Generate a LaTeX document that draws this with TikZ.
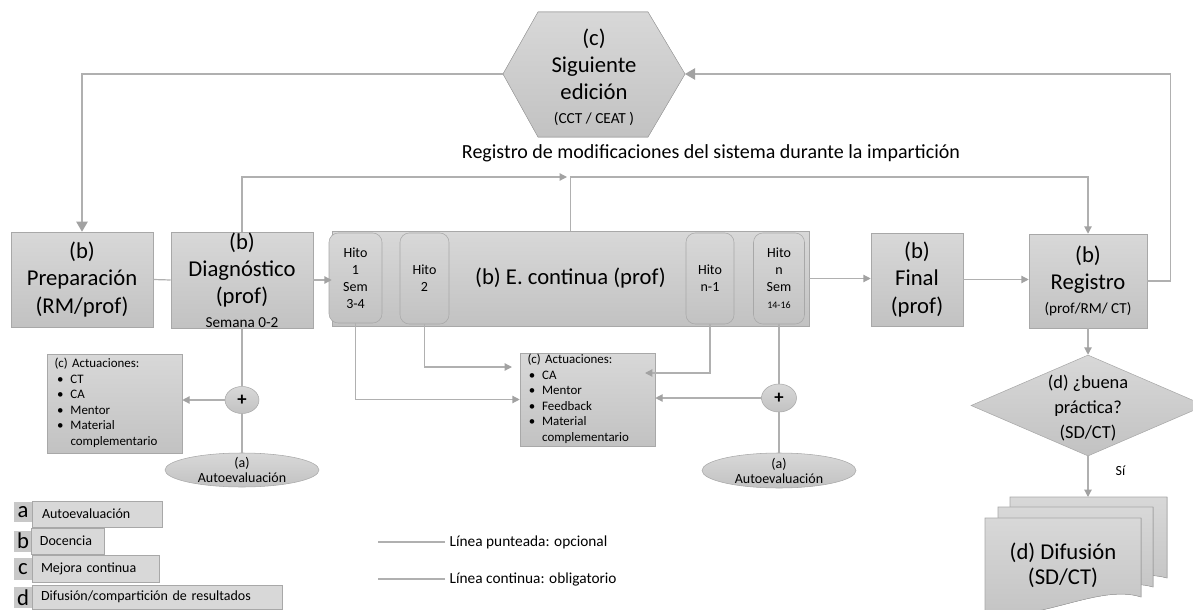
\documentclass[tikz,border=0pt]{standalone}
\usepackage{fontspec}
\setmainfont{Carlito}
\usetikzlibrary{arrows.meta,shapes.geometric}

\definecolor{boxtop}{HTML}{D8D8D8}
\definecolor{boxbot}{HTML}{C2C2C2}
\definecolor{boxedge}{HTML}{A8A8A8}
\definecolor{linkgray}{HTML}{B0B0B0}
\definecolor{tipgray}{HTML}{A2A2A2}

\newcommand{\pix}{0.75pt}
\newcommand{\fbig}{\fontsize{17}{20.4}\selectfont}
\newcommand{\fhex}{\fontsize{17}{20.4}\selectfont}
\newcommand{\fdia}{\fontsize{13.8}{18.6}\selectfont}
\newcommand{\fsmall}{\fontsize{11.4}{14}\selectfont}
\newcommand{\fhito}{\fontsize{10.5}{12.8}\selectfont}
\newcommand{\fact}{\fontsize{9.7}{11.6}\selectfont}
\newcommand{\fleg}{\fontsize{10.5}{12.6}\selectfont}

\tikzset{
    box/.style={draw=boxedge, top color=boxtop, bottom color=boxbot, align=center, inner sep=0pt},
    hito/.style={box, rounded corners=7pt, font=\fhito},
    oval/.style={ellipse, box},
    link/.style={draw=linkgray, line width=0.9pt},
    arr/.style={link, -{Triangle[length=5.5pt, width=5.5pt, color=tipgray]}},
    bigarr/.style={link, -{Triangle[length=7.5pt, width=8.5pt, color=tipgray]}},
    legbox/.style={draw=boxedge, fill=boxtop, inner sep=0pt, align=left, font=\fleg},
    lettr/.style={fill=boxbot!90, inner sep=0pt, font=\fontsize{17}{17}\selectfont},
}

\begin{document}
\begin{tikzpicture}[x=\pix, y=-\pix]
    \useasboundingbox (0,0) rectangle (1193,610);

    \coordinate (hexL) at (503,74);
    \coordinate (hexR) at (685,74);
    \coordinate (mod) at (567,177);
    \coordinate (in2) at (512,367);
    \coordinate (in3) at (645,373);
    \coordinate (dift) at (1088,497);

    \filldraw[draw=boxedge, top color=boxtop, bottom color=boxbot] (hexL) -- (538,12) -- (648,12) -- (hexR) -- (648,137) -- (538,137) -- cycle;
    \node[align=center, font=\fhex] (sig) at (594,77) {(c)\\Siguiente\\edición\\[-3pt]{\fontsize{11.5}{12}\selectfont (CCT / CEAT )}};
    \node[font=\fontsize{15}{17}\selectfont] (regmod) at (711,153) {Registro de modificaciones del sistema durante la impartición};

    \node[box, font=\fbig, minimum width=142*\pix, minimum height=95*\pix] (prep) at (82,279.5) {(b)\\Preparación\\(RM/prof)};
    \node[box, font=\fbig, minimum width=142*\pix, minimum height=96*\pix] (diag) at (242,280) {(b)\\Diagnóstico\\(prof)\\[-3pt]{\fsmall Semana 0-2}};
    \node[box, font=\fbig, minimum width=477*\pix, minimum height=95*\pix] (econt) at (570.5,278.5) {(b) E. continua (prof)};
    \node[hito, minimum width=53*\pix, minimum height=90*\pix] (h1) at (355.5,278) {Hito\\1\\Sem\\3-4};
    \node[hito, minimum width=49*\pix, minimum height=91*\pix] (h2) at (424.5,278.5) {Hito\\2};
    \node[hito, minimum width=48*\pix, minimum height=91*\pix] (hn1) at (710,278.5) {Hito\\n-1};
    \node[hito, minimum width=51*\pix, minimum height=91*\pix] (hn) at (779,278.5) {Hito\\n\\Sem\\{\fontsize{7.5}{9}\selectfont 14-16}};
    \node[box, font=\fbig, minimum width=92*\pix, minimum height=93*\pix] (final) at (917,279.5) {(b)\\Final\\(prof)};
    \node[box, font=\fbig, minimum width=118*\pix, minimum height=94*\pix] (reg) at (1088,281) {(b)\\Registro\\[-2pt]{\fsmall (prof/RM/ CT)}};

    \node[box, font=\fact, minimum width=135*\pix, minimum height=99*\pix, text width=120*\pix, align=left] (actL) at (114.5,403.5) {%
        \begin{tabular}{@{}p{12pt}@{}l@{}}
        \multicolumn{2}{@{}l}{(c) Actuaciones:}\\
        \hspace{2pt}\textbullet & CT\\
        \hspace{2pt}\textbullet & CA\\
        \hspace{2pt}\textbullet & Mentor\\
        \hspace{2pt}\textbullet & Material\\
         & complementario
        \end{tabular}};
    \node[box, font=\fact, minimum width=135*\pix, minimum height=93*\pix, text width=120*\pix, align=left] (actM) at (587.5,399.5) {%
        \begin{tabular}{@{}p{11pt}@{}l@{}}
        \multicolumn{2}{@{}l}{(c) Actuaciones:}\\
        \hspace{1pt}\textbullet & CA\\
        \hspace{1pt}\textbullet & Mentor\\
        \hspace{1pt}\textbullet & Feedback\\
        \hspace{1pt}\textbullet & Material\\
         & complementario
        \end{tabular}};

    \node[oval, minimum width=34*\pix, minimum height=27*\pix, font=\fontsize{14}{14}\selectfont\bfseries] (plusL) at (242,400) {+};
    \node[oval, minimum width=35*\pix, minimum height=28*\pix, font=\fontsize{14}{14}\selectfont\bfseries] (plusR) at (779,398) {+};
    \node[oval, minimum width=154*\pix, minimum height=34*\pix] (autoL) at (242,470) {};
    \node[oval, minimum width=154*\pix, minimum height=35*\pix] (autoR) at (779,470.5) {};
    \node[align=center, font=\fontsize{10.5}{11.3}\selectfont] (autoLt) at (autoL) {(a)\\Autoevaluación};
    \node[align=center, font=\fontsize{10.5}{11.3}\selectfont] (autoRt) at (autoR) {(a)\\Autoevaluación};

    \node[diamond, draw=boxedge, top color=boxtop, bottom color=boxbot, inner sep=0pt, minimum width=234*\pix, minimum height=101*\pix] (dia) at (1088,405.5) {};
    \node[align=center, font=\fdia] (diat) at (1088,408) {(d) ¿buena\\práctica?\\(SD/CT)};

    \filldraw[draw=boxedge, top color=boxtop, bottom color=boxbot] (1010,497) -- (1167,497) -- (1167,578) .. controls (1125,566) and (1060,598) .. (1010,588) -- cycle;
    \filldraw[draw=boxedge, top color=boxtop, bottom color=boxbot] (998,507) -- (1153,507) -- (1153,587) .. controls (1112,575) and (1045,607) .. (998,597) -- cycle;
    \filldraw[draw=boxedge, top color=boxtop, bottom color=boxbot] (985,518) -- (1141,518) -- (1141,597) .. controls (1098,583) and (1035,625) .. (985,612) -- cycle;
    \node[align=center, font=\fontsize{17}{19}\selectfont] (dif) at (1063,565) {(d) Difusión\\(SD/CT)};

    \draw[bigarr] (hexL) -| (prep.north);
    \draw[bigarr] (reg.east) -- ++(23,0) |- (hexR);
    \draw[link] (prep.east) -- (diag.west);
    \draw[arr] (diag.east) -- (diag.east -| econt.west);
    \draw[arr] (econt.east) -- (econt.east -| final.west);
    \draw[arr] (final.east) -- (final.east -| reg.west);
    \draw[arr] (diag.north) |- (mod);
    \draw[arr] (econt.north) -- (econt.north |- mod) -| (reg.north);
    \draw[link] (diag.south) -- (plusL.north);
    \draw[link] (plusL.south) -- (autoL.north);
    \draw[arr] (plusL.west) -- (plusL.west -| actL.east);
    \draw[arr] (h1.south) |- (actM.west);
    \draw[arr] (h2.south) |- (in2);
    \draw[arr] (hn1.south) |- (in3);
    \draw[link] (hn.south) -- (plusR.north);
    \draw[link] (plusR.south) -- (autoR.north);
    \draw[arr] (plusR.west) -- (plusR.west -| actM.east);
    \draw[arr] (reg.south) -- (dia.north);
    \draw[arr] (dia.south) -- (dift) node[pos=0.35, right=17pt, font=\fleg] (si) {Sí};

    % leyenda
    \node[lettr, minimum width=18*\pix, minimum height=20*\pix] (la) at (23,512) {a};
    \node[lettr, minimum width=18*\pix, minimum height=21*\pix] (lb) at (23,541) {b};
    \node[lettr, minimum width=18*\pix, minimum height=22*\pix] (lc) at (23,569) {c};
    \node[lettr, minimum width=18*\pix, minimum height=21*\pix] (ld) at (23,597.5) {d};
    \node[legbox, minimum width=130*\pix, text width=110*\pix, minimum height=26*\pix] (ta) at (97,514) {Autoevaluación};
    \node[legbox, minimum width=73*\pix, text width=55*\pix, minimum height=26*\pix] (tb) at (67.5,541) {Docencia};
    \node[legbox, minimum width=127*\pix, text width=109*\pix, minimum height=27*\pix] (tc) at (95.5,568.5) {Mejora continua};
    \node[legbox, minimum width=250*\pix, text width=232*\pix, minimum height=24*\pix] (td) at (157,597) {Difusión/compartición de resultados};

    \node[anchor=west, font=\fontsize{11.5}{13}\selectfont] (lp) at (445,542) {Línea punteada: opcional};
    \node[anchor=west, font=\fontsize{11.5}{13}\selectfont] (lc2) at (445,579) {Línea continua: obligatorio};
    \draw[link] (lp.west) -- ++(-67,0);
    \draw[link] (lc2.west) -- ++(-67,0);
\end{tikzpicture}
\end{document}
